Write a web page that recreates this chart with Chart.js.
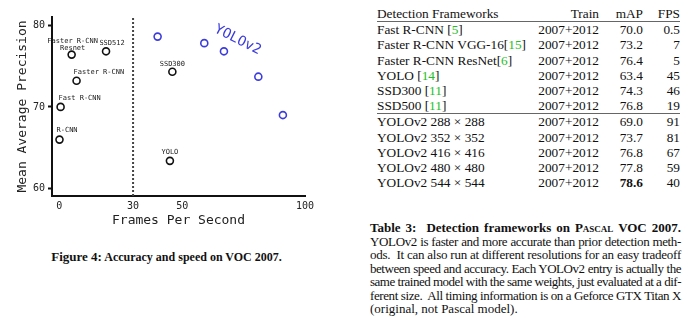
<!DOCTYPE html>
<html>
<head>
<meta charset="utf-8">
<script src="https://cdn.jsdelivr.net/npm/chart.js@4.4.0/dist/chart.umd.min.js"></script>
<style>
  html, body { margin: 0; padding: 0; background: #fff; }
  body { width: 690px; height: 317px; position: relative; overflow: hidden; }
  #chartBox { position: absolute; left: 0; top: 0; width: 345px; height: 235px; }
  .fig-caption {
    position: absolute; left: 0; top: 249px; width: 333px; text-align: center;
    font-family: "Liberation Serif", serif; font-weight: bold; font-size: 12px; color: #111;
  }
  .fig-caption .lead { font-size: 13px; }
  #results {
    position: absolute; left: 377px; top: 6px; width: 303px;
    font-family: "Liberation Serif", serif; font-size: 13.3px; color: #111;
  }
  .row { display: grid; grid-template-columns: 160px 62px 44px 37px; height: 15.2px; line-height: 15.2px; white-space: nowrap; }
  .row span { text-align: right; }
  .row span:first-child { text-align: left; }
  .rule { border-bottom: 1px solid #666; }
  .ref { color: #22c022; }
  .tab-caption {
    position: absolute; left: 370px; top: 221px; width: 311px;
    font-family: "Liberation Serif", serif; font-size: 13px; line-height: 13.5px; color: #111;
  }
  .tab-caption div { text-align: justify; text-align-last: justify; white-space: nowrap; }
  .tab-caption div.last { text-align-last: left; }
  .sc { font-variant: small-caps; }
</style>
</head>
<body>
<div id="chartBox"><canvas id="fpsChart"></canvas></div>
<div class="fig-caption"><span class="lead">Figure 4:</span> Accuracy and speed on VOC 2007.</div>
<div id="results"></div>
<div class="tab-caption">
  <div><b>Table 3:&nbsp; Detection frameworks on P<span class="sc">ascal</span> VOC 2007.</b></div>
  <div>YOLOv2 is faster and more accurate than prior detection meth-</div>
  <div>ods.&nbsp; It can also run at different resolutions for an easy tradeoff</div>
  <div>between speed and accuracy. Each YOLOv2 entry is actually the</div>
  <div>same trained model with the same weights, just evaluated at a dif-</div>
  <div>ferent size.&nbsp; All timing information is on a Geforce GTX Titan X</div>
  <div class="last">(original, not Pascal model).</div>
</div>
<script>
// Scatter data
const detectorNames = ['R-CNN', 'Fast R-CNN', 'Faster R-CNN', 'Faster R-CNN\nResnet', 'SSD512', 'SSD300', 'YOLO'];
const detectorFps = [0.05, 0.5, 7, 5, 19, 46, 45];
const detectorMap = [66.0, 70.0, 73.2, 76.4, 76.8, 74.3, 63.4];
const yolov2Fps = [40, 59, 67, 81, 91];
const yolov2Map = [78.6, 77.8, 76.8, 73.7, 69.0];
const realTimeFps = 30;

// Axis range and ticks
const xMin = -3, xMax = 100;
const yMin = 59.1, yMax = 81;
const xTicks = [0, 30, 50, 100];
const yTicks = [60, 70, 80];

// Table data
const tableNames = ['Fast R-CNN ', 'Faster R-CNN VGG-16', 'Faster R-CNN ResNet', 'YOLO ', 'SSD300 ', 'SSD500 ',
  'YOLOv2 288 × 288', 'YOLOv2 352 × 352', 'YOLOv2 416 × 416', 'YOLOv2 480 × 480', 'YOLOv2 544 × 544'];
const tableRefs = ['5', '15', '6', '14', '11', '11', '', '', '', '', ''];
const tableTrain = ['2007+2012', '2007+2012', '2007+2012', '2007+2012', '2007+2012', '2007+2012',
  '2007+2012', '2007+2012', '2007+2012', '2007+2012', '2007+2012'];
const tableMap = ['70.0', '73.2', '76.4', '63.4', '74.3', '76.8', '69.0', '73.7', '76.8', '77.8', '78.6'];
const tableFps = ['0.5', '7', '5', '45', '46', '19', '91', '81', '67', '59', '40'];

// label placement next to each point (dx, dy in px)
const labelOffsets = [
  { dx: -3, dy: -9, align: 'left' },
  { dx: -2, dy: -9, align: 'left' },
  { dx: -3, dy: -9, align: 'left' },
  { dx: 1, dy: -13, align: 'center' },
  { dx: 6, dy: -8, align: 'center' },
  { dx: 0, dy: -8, align: 'center' },
  { dx: 0, dy: -9, align: 'center' }
];

const mono = '"DejaVu Sans Mono", monospace';
const blue = '#3c3cdc';

// Build the results table
const results = document.getElementById('results');
function addRow(cells, cls) {
  const row = document.createElement('div');
  row.className = 'row' + (cls ? ' ' + cls : '');
  cells.forEach(c => {
    const s = document.createElement('span');
    s.innerHTML = c;
    row.appendChild(s);
  });
  results.appendChild(row);
}
addRow(['Detection Frameworks', 'Train', 'mAP', 'FPS'], 'rule');
const bestMap = Math.max(...tableMap.map(Number));
tableNames.forEach((name, i) => {
  const ref = tableRefs[i] ? '[<span class="ref">' + tableRefs[i] + '</span>]' : '';
  const map = Number(tableMap[i]) === bestMap ? '<b>' + tableMap[i] + '</b>' : tableMap[i];
  addRow([name + ref, tableTrain[i], map, tableFps[i]], i === 5 ? 'rule' : '');
});

// squeeze caption lines that are too long for the column
document.querySelectorAll('.tab-caption div').forEach(line => {
  let ls = 0;
  while (line.scrollWidth > line.clientWidth && ls > -1) {
    ls -= 0.05;
    line.style.letterSpacing = ls + 'px';
  }
});

// Point labels + YOLOv2 tag
const labelPlugin = {
  id: 'pointLabels',
  afterDatasetsDraw(chart) {
    const { ctx, scales: { x, y } } = chart;
    ctx.save();
    ctx.font = '7px ' + mono;
    ctx.fillStyle = '#222';
    ctx.textBaseline = 'middle';
    detectorNames.forEach((name, i) => {
      const px = x.getPixelForValue(detectorFps[i]);
      const py = y.getPixelForValue(detectorMap[i]);
      const o = labelOffsets[i];
      ctx.textAlign = o.align;
      name.split('\n').forEach((line, k) => ctx.fillText(line, px + o.dx, py + o.dy + k * 6.5));
    });
    // rotated series name
    ctx.translate(x.getPixelForValue(72.6), y.getPixelForValue(78.2));
    ctx.rotate(0.47);
    ctx.font = '14px ' + mono;
    ctx.fillStyle = blue;
    ctx.textAlign = 'center';
    ctx.fillText('YOLOv2', 0, 0);
    ctx.restore();
  }
};

const ctx = document.getElementById('fpsChart').getContext('2d');
new Chart(ctx, {
  type: 'scatter',
  data: {
    datasets: [
      {
        label: 'Real time',
        type: 'line',
        data: [{ x: realTimeFps, y: yMin }, { x: realTimeFps, y: yMax }],
        borderColor: '#444',
        borderWidth: 2,
        borderDash: [2, 2],
        pointRadius: 0
      },
      {
        label: 'Other detectors',
        data: detectorFps.map((v, i) => ({ x: v, y: detectorMap[i] })),
        pointRadius: 3.5,
        pointBorderWidth: 1.6,
        borderColor: '#111',
        backgroundColor: '#fff'
      },
      {
        label: 'YOLOv2',
        data: yolov2Fps.map((v, i) => ({ x: v, y: yolov2Map[i] })),
        pointRadius: 3.5,
        pointBorderWidth: 1.6,
        borderColor: blue,
        backgroundColor: '#fff'
      }
    ]
  },
  options: {
    responsive: true,
    maintainAspectRatio: false,
    animation: false,
    layout: { padding: { left: 0, top: 17, right: 40, bottom: 0 } },
    plugins: { legend: { display: false }, tooltip: { enabled: false } },
    scales: {
      x: {
        type: 'linear',
        min: xMin,
        max: xMax,
        afterBuildTicks: s => { s.ticks = xTicks.map(v => ({ value: v })); },
        afterFit: s => { s.height = 39; },
        grid: { display: false, drawTicks: false },
        border: { display: true, color: '#111', width: 2 },
        ticks: { font: { family: mono, size: 10 }, color: '#222', padding: 4, maxRotation: 0, autoSkip: false },
        title: { display: true, text: 'Frames Per Second', font: { family: mono, size: 13 }, color: '#222', padding: { top: 0, bottom: 7 } }
      },
      y: {
        min: yMin,
        max: yMax,
        afterBuildTicks: s => { s.ticks = yTicks.map(v => ({ value: v })); },
        afterFit: s => { s.width = 52; },
        grid: { drawOnChartArea: false, drawTicks: true, tickLength: 4, tickWidth: 2, tickColor: '#111' },
        border: { display: true, color: '#111', width: 2 },
        ticks: { font: { family: mono, size: 10 }, color: '#222', padding: 3 },
        title: { display: true, text: 'Mean Average Precision', font: { family: mono, size: 13 }, color: '#222', padding: { top: 15, bottom: 0 } }
      }
    }
  },
  plugins: [labelPlugin]
});
</script>
</body>
</html>
